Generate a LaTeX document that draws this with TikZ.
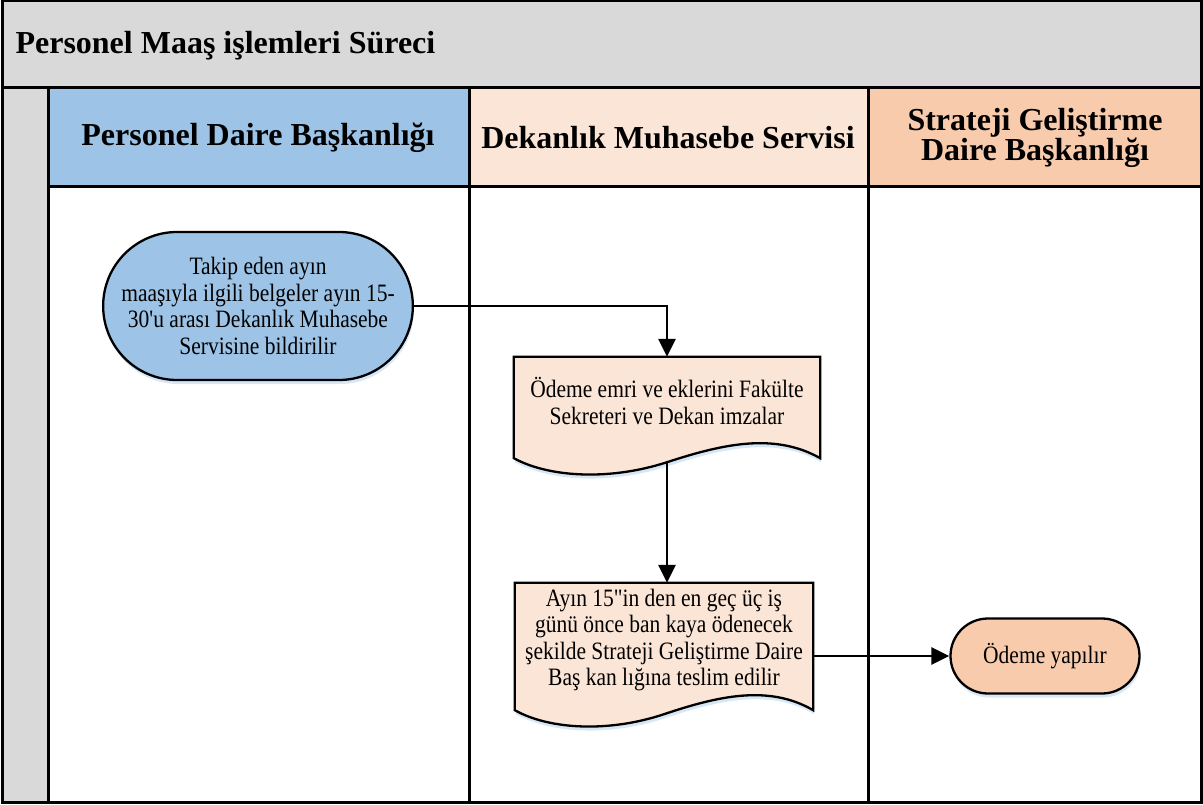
\documentclass[tikz,border=0pt]{standalone}
\usepackage{fontspec}
\setmainfont{Liberation Serif}[Ligatures=TeXOff]
\newfontfamily\narrowserif{Liberation Serif}[Ligatures=TeXOff, FakeStretch=0.86]
\usetikzlibrary{arrows.meta,calc,shapes.misc,shadows}
\definecolor{titlegray}{HTML}{D9D9D9}
\definecolor{laneblue}{HTML}{9DC3E6}
\definecolor{lanepeach}{HTML}{FBE5D6}
\definecolor{laneorange}{HTML}{F8CBAD}
\definecolor{glow}{HTML}{BDD7EE}
\newcommand{\bodyfont}{\narrowserif\fontsize{25}{26.5}\selectfont}
\newcommand{\headfont}{\fontsize{32}{30}\selectfont\bfseries}
\pgfdeclarelayer{lanes}
\pgfdeclarelayer{docs}
\pgfsetlayers{lanes,docs,main}
\tikzset{
  frame/.style={line width=3pt},
  flow/.style={-{Triangle[length=18pt,width=17pt]}, line width=2.7pt},
  glowshadow/.style={drop shadow={shadow xshift=1pt, shadow yshift=-4pt, fill=glow, opacity=0.6}},
  terminal/.style={rounded rectangle, draw, line width=2.3pt, align=center, inner sep=0pt, font=\bodyfont, glowshadow},
  docnode/.style={rectangle, inner sep=0pt, align=center, font=\bodyfont},
  docline/.style={draw, line width=2.3pt, fill=lanepeach, glowshadow},
  headtext/.style={align=center, font=\headfont},
}
% document symbol: box with a wavy lower edge, drawn under the node text
\newcommand{\docoutline}[1]{%
  \begin{pgfonlayer}{docs}
    \path[docline] (#1.north west) -- (#1.north east)
      -- ($(#1.south east)+(0,13)$)
      .. controls ($(#1.south west)!0.85!(#1.south east)+(0,-13)$)
              and ($(#1.south west)!0.68!(#1.south east)+(0,-1)$) ..
      ($(#1.south)+(0,17)$)
      .. controls ($(#1.south west)!0.32!(#1.south east)+(0,35)$)
              and ($(#1.south west)!0.12!(#1.south east)+(0,33)$) ..
      ($(#1.south west)+(0,13)$) -- cycle;
  \end{pgfonlayer}
  \coordinate (#1-wave) at ($(#1.south)+(0,17)$);
}

\begin{document}
\begin{tikzpicture}[x=1pt, y=-1pt]
  \useasboundingbox (0,0) rectangle (1203,805);

  % Pool and lanes
  \begin{pgfonlayer}{lanes}
    \fill[titlegray] (2,1) rectangle (1201,88);
    \fill[titlegray] (2,88) rectangle (48,802);
    \fill[laneblue] (48,88) rectangle (469,187);
    \fill[lanepeach] (469,88) rectangle (868,187);
    \fill[laneorange] (868,88) rectangle (1201,187);
    \draw[frame] (2,1) rectangle (1201,802);
    \draw[frame] (2,88) -- (1201,88);
    \draw[frame] (48,187) -- (1201,187);
    \draw[frame] (48,88) -- (48,802);
    \draw[frame] (469,88) -- (469,802);
    \draw[frame] (868,88) -- (868,802);
  \end{pgfonlayer}

  % Titles
  \node[anchor=base west, font=\headfont] (title) at (12,54) {Personel Maaş işlemleri Süreci};
  \node[headtext] (hpersonel) at (258,138) {Personel Daire Başkanlığı};
  \node[headtext] (hdekanlik) at (668,138) {Dekanlık Muhasebe Servisi};
  \node[headtext] (hstrateji) at (1035,138) {Strateji Geliştirme\\Daire Başkanlığı};

  % Steps
  \node[terminal, fill=laneblue, minimum width=307, minimum height=148] (start) at (258,306)
    {Takip eden ayın\\maaşıyla ilgili belgeler ayın 15-\\30'u arası Dekanlık Muhasebe\\Servisine bildirilir};
  \node[docnode, minimum width=306, minimum height=88] (sign) at (667,401)
    {Ödeme emri ve eklerini Fakülte\\Sekreteri ve Dekan imzalar};
  \docoutline{sign}
  \node[docnode, minimum width=298, minimum height=114] (deliver) at (664,640)
    {Ayın 15"in den en geç üç iş\\günü önce ban kaya ödenecek\\şekilde Strateji Geliştirme Daire\\Baş kan lığına teslim edilir};
  \docoutline{deliver}
  \node[terminal, fill=laneorange, minimum width=189, minimum height=75] (done) at (1045,656)
    {Ödeme yapılır};

  % Flow
  \draw[flow] (start.east) -| (sign.north);
  \draw[flow] (sign-wave) -- (sign-wave |- deliver.north);
  \draw[flow] (deliver.east |- done.west) -- (done.west);
\end{tikzpicture}
\end{document}
